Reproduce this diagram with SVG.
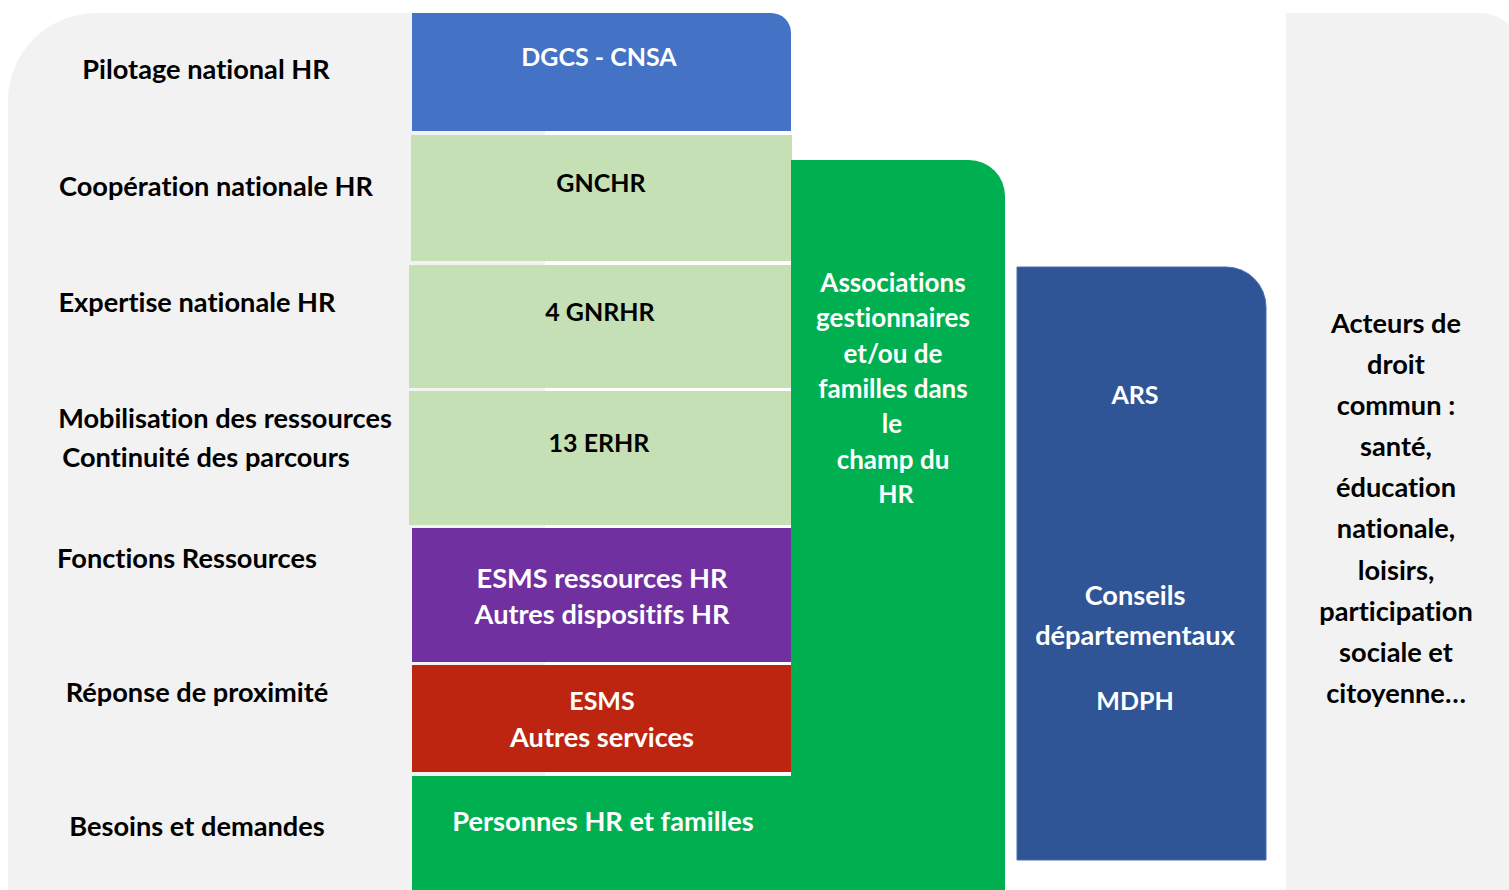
<svg xmlns="http://www.w3.org/2000/svg" width="1509" height="890" viewBox="0 0 1509 890">
<style>
text{font-family:Lato,"Open Sans","Liberation Sans",sans-serif;font-weight:700;font-size:27.2px;text-anchor:middle;font-variant-ligatures:none;font-feature-settings:"liga" 0}
.k{fill:#000}
.w{fill:#fff}
.caps{font-size:25px}
.col{font-size:26px}
</style>
<rect width="1509" height="890" fill="#fff"/>
<g id="panel-left">
<path d="M8,890 V101 A88,88 0 0 1 96,13 H545 V890 Z" fill="#F2F2F2"/>
<text class="k" x="206" y="79">Pilotage national HR</text>
<text class="k" x="216" y="196">Coopération nationale HR</text>
<text class="k" x="197" y="312">Expertise nationale HR</text>
<text class="k" x="225" y="428">Mobilisation des ressources</text>
<text class="k" x="206" y="467">Continuité des parcours</text>
<text class="k" x="187" y="568">Fonctions Ressources</text>
<text class="k" x="197" y="702">Réponse de proximité</text>
<text class="k" x="197" y="836">Besoins et demandes</text>
</g>
<g id="panel-right">
<path d="M1286,890 V13 H1480 A41,41 0 0 1 1521,54 V890 Z" fill="#F2F2F2"/>
<text class="k" x="1396" y="333">Acteurs de</text>
<text class="k" x="1396" y="374">droit</text>
<text class="k" x="1396" y="415">commun :</text>
<text class="k" x="1396" y="456">santé,</text>
<text class="k" x="1396" y="497">éducation</text>
<text class="k" x="1396" y="538">nationale,</text>
<text class="k" x="1396" y="580">loisirs,</text>
<text class="k" x="1396" y="621">participation</text>
<text class="k" x="1396" y="662">sociale et</text>
<text class="k" x="1396" y="703">citoyenne…</text>
</g>
<g id="dgcs">
<path d="M412,131 V13 H771 A20,20 0 0 1 791,33 V131 Z" fill="#4472C4"/>
<text class="w caps" x="599" y="66">DGCS - CNSA</text>
</g>
<g id="gnchr">
<rect x="411" y="135" width="381" height="126" fill="#C5E0B4"/>
<text class="k caps" x="601" y="192">GNCHR</text>
</g>
<g id="gnrhr">
<rect x="409" y="265" width="382" height="123" fill="#C5E0B4"/>
<text class="k caps" x="600" y="321">4 GNRHR</text>
</g>
<g id="erhr">
<rect x="409" y="391" width="382" height="134" fill="#C5E0B4"/>
<text class="k caps" x="599" y="452">13 ERHR</text>
</g>
<g id="esms-ressources">
<rect x="412" y="528" width="379" height="134" fill="#7030A0"/>
<text class="w" x="602" y="588">ESMS ressources HR</text>
<text class="w" x="602" y="624">Autres dispositifs HR</text>
</g>
<g id="esms">
<rect x="412" y="665" width="379" height="107" fill="#BD2511"/>
<text class="w caps" x="602" y="710">ESMS</text>
<text class="w" x="602" y="747">Autres services</text>
</g>
<g id="associations">
<path d="M791,890 V160 H969 A36,36 0 0 1 1005,196 V890 Z" fill="#00B050"/>
<text class="w col" x="893" y="292">Associations</text>
<text class="w col" x="893" y="327">gestionnaires</text>
<text class="w col" x="893" y="363">et/ou de</text>
<text class="w col" x="893" y="398">familles dans</text>
<text class="w col" x="892" y="433">le</text>
<text class="w col" x="893" y="469">champ du</text>
<text class="w caps" x="896" y="503">HR</text>
</g>
<g id="personnes">
<rect x="412" y="776" width="593" height="114" fill="#00B050"/>
<text class="w" x="603" y="831">Personnes HR et familles</text>
</g>
<g id="ars">
<path d="M1017,860 V267 H1226 A40,40 0 0 1 1266,307 V860 Z" fill="#2F5597" stroke="#4A6FB0" stroke-width="1"/>
<text class="w caps" x="1135" y="404">ARS</text>
<text class="w" x="1135" y="605">Conseils</text>
<text class="w" x="1135" y="645">départementaux</text>
<text class="w caps" x="1135" y="710">MDPH</text>
</g>
<g id="connectors"/>
</svg>
